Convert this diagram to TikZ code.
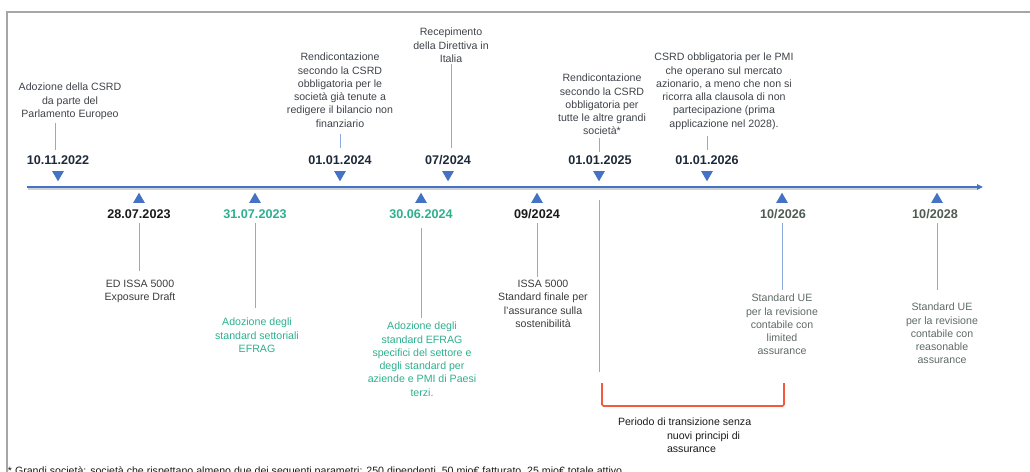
\documentclass[tikz,border=0pt]{standalone}
\usepackage{fontspec}
\setmainfont{Liberation Sans}
\usetikzlibrary{arrows.meta,shapes.geometric}

\definecolor{tlblue}{HTML}{4472C4}
\definecolor{leadblue}{HTML}{8EA9DB}
\definecolor{framegray}{HTML}{A6A6A6}
\definecolor{toptext}{HTML}{3F4349}
\definecolor{navydate}{HTML}{1E2A3A}
\definecolor{blackdate}{HTML}{1A1A1A}
\definecolor{tealtext}{HTML}{2DAF8D}
\definecolor{greendate}{HTML}{4D5B53}
\definecolor{graylabel}{HTML}{5E6A65}
\definecolor{bracketred}{HTML}{F4593C}

\begin{document}
\begin{tikzpicture}[x=1pt,y=-1pt,
  every node/.style={inner sep=0pt,outer sep=0pt},
  lbl/.style={font=\fontsize{10.6}{13.3}\selectfont,align=center,anchor=north,text=toptext},
  datelbl/.style={font=\fontsize{12.6}{14}\selectfont\bfseries,anchor=base},
  tridown/.style={regular polygon,regular polygon sides=3,shape border rotate=180,
    fill=tlblue,minimum size=13.6pt},
  triup/.style={regular polygon,regular polygon sides=3,fill=tlblue,minimum size=13.6pt},
  leaderline/.style={draw=leadblue,line width=0.9pt},
]
\useasboundingbox (0,0) rectangle (1030,471);

% frame
\draw[framegray,line width=1.4pt] (1030,12) -- (7,12) -- (7,472);

% main time axis
\coordinate (axstart) at (27,187);
\coordinate (axend) at (983,187);
\draw[black!18,line width=2pt] (28,189) -- (978,189);
\draw[tlblue,line width=2pt,-{Triangle[length=6pt,width=5.5pt]}] (axstart) -- (axend);

% ---------- events above the axis ----------
\node[tridown] (T1) at (58,174.5) {};
\node[tridown] (T2) at (340,174.5) {};
\node[tridown] (T3) at (448,174.5) {};
\node[tridown] (T4) at (599,174.5) {};
\node[tridown] (T5) at (707,174.5) {};

\node[datelbl,text=navydate] (D1) at (58,164.5) {10.11.2022};
\node[datelbl,text=navydate] (D2) at (340,164.5) {01.01.2024};
\node[datelbl,text=navydate] (D3) at (448,164.5) {07/2024};
\node[datelbl,text=navydate] (D4) at (600,164.5) {01.01.2025};
\node[datelbl,text=navydate] (D5) at (707,164.5) {01.01.2026};

\node[lbl] (L1) at (70,83.1) {Adozione della CSRD\\da parte del\\Parlamento Europeo};
\node[lbl] (L2) at (340,53.1) {Rendicontazione\\secondo la CSRD\\obbligatoria per le\\società già tenute a\\redigere il bilancio non\\finanziario};
\node[lbl] (L3) at (451,28.1) {Recepimento\\della Direttiva in\\Italia};
\node[lbl] (L4) at (602,74.1) {Rendicontazione\\secondo la CSRD\\obbligatoria per\\tutte le altre grandi\\società*};
\node[lbl] (L5) at (724,53.1) {CSRD obbligatoria per le PMI\\che operano sul mercato\\azionario, a meno che non si\\ricorra alla clausola di non\\partecipazione (prima\\applicazione nel 2028).};

\draw[leaderline,shorten <=3.8pt,shorten >=5.5pt] (L1.south -| D1) ++(-3,0) -- ([xshift=-3pt]D1.north);
\draw[leaderline,shorten <=7pt,shorten >=7.5pt] (L2.south -| D2) -- (D2.north);
\draw[leaderline,shorten <=2pt,shorten >=7.5pt] (L3.south -| L3) -- (L3.south |- D3.north);
\draw[leaderline,shorten <=3pt,shorten >=3.5pt] (L4.south -| T4) -- (D4.north -| T4);
\draw[leaderline,shorten <=6.8pt,shorten >=5.5pt] (L5.south -| D5) -- (D5.north);

% ---------- events below the axis ----------
\node[triup] (U1) at (139,199.5) {};
\node[triup] (U2) at (255,199.5) {};
\node[triup] (U3) at (421,199.5) {};
\node[triup] (U4) at (537,199.5) {};
\node[triup] (U5) at (782,199.5) {};
\node[triup] (U6) at (937,199.5) {};

\node[datelbl,text=blackdate] (E1) at (139,218.5) {28.07.2023};
\node[datelbl,text=tealtext] (E2) at (255,218.5) {31.07.2023};
\node[datelbl,text=tealtext] (E3) at (421,218.5) {30.06.2024};
\node[datelbl,text=blackdate] (E4) at (537,218.5) {09/2024};
\node[datelbl,text=greendate] (E5) at (783,218.5) {10/2026};
\node[datelbl,text=greendate] (E6) at (935,218.5) {10/2028};

\node[lbl,text=blackdate!85] (B1) at (140,280.1) {ED ISSA 5000\\Exposure Draft};
\node[lbl,text=tealtext] (B2) at (257,318.1) {Adozione degli\\standard settoriali\\EFRAG};
\node[lbl,text=tealtext] (B3) at (422,322.1) {Adozione degli\\standard EFRAG\\specifici del settore e\\degli standard per\\aziende e PMI di Paesi\\terzi.};
\node[lbl,text=blackdate!85] (B4) at (543,280.1) {ISSA 5000\\Standard finale per\\l’assurance sulla\\sostenibilità};
\node[lbl,text=graylabel] (B5) at (782,294.1) {Standard UE\\per la revisione\\contabile con\\limited\\assurance};
\node[lbl,text=graylabel] (B6) at (942,303.1) {Standard UE\\per la revisione\\contabile con\\reasonable\\assurance};

\draw[leaderline,shorten <=4.5pt,shorten >=9pt] (E1.base -| U1) -- (B1.north -| U1);
\draw[leaderline,shorten <=4.5pt,shorten >=10pt] (E2.base -| U2) -- (B2.north -| U2);
\draw[leaderline,shorten <=9.5pt,shorten >=4pt] (E3.base -| U3) -- (B3.north -| U3);
\draw[leaderline,shorten <=4.5pt,shorten >=3pt] (E4.base -| U4) -- (B4.north -| U4);
\draw[leaderline,shorten <=4.5pt,shorten >=4pt] (E5.base -| U5) -- (B5.north -| U5);
\draw[leaderline,shorten <=4.5pt,shorten >=13pt] (E6.base -| U6) -- (B6.north -| U6);

% ---------- transition period ----------
\coordinate (trtop) at (599,200);
\coordinate (trbot) at (599,372);
\draw[leaderline] (trtop) -- (trbot);

\coordinate (brA) at (602,383);
\coordinate (brB) at (602,406);
\coordinate (brC) at (784,406);
\coordinate (brD) at (784,383);
\draw[bracketred,line width=1.6pt,rounded corners=1.5pt] (brA) -- (brB) -- (brC) -- (brD);

\node[font=\fontsize{10.6}{13.3}\selectfont,align=left,anchor=north west,text=blackdate]
  (TR) at (618,418.1) {Periodo di transizione senza\\\hspace*{49pt}nuovi principi di\\\hspace*{49pt}assurance};

% ---------- footnote ----------
\node[font=\fontsize{10.6}{13}\selectfont,anchor=base west,text=blackdate] (FN) at (8,474.6)
  {* Grandi società: società che rispettano almeno due dei seguenti parametri: 250 dipendenti, 50 mio€ fatturato, 25 mio€ totale attivo.};
\end{tikzpicture}
\end{document}
